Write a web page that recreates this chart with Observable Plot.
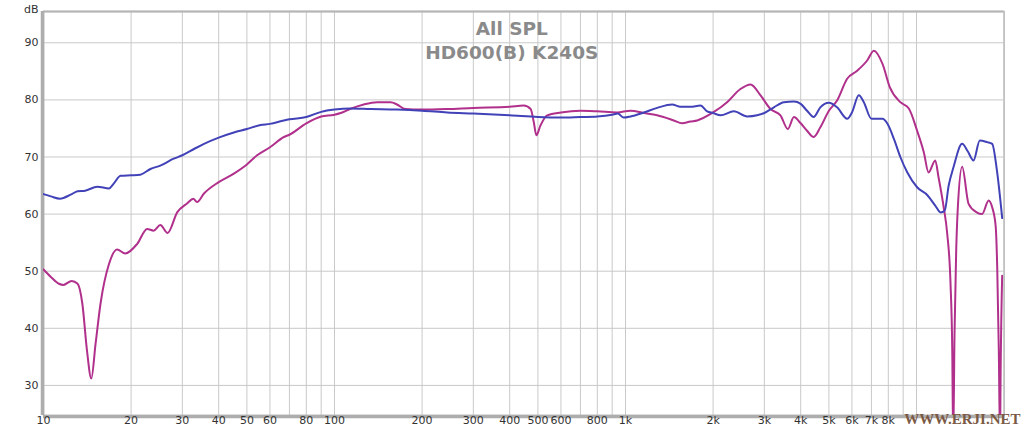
<!DOCTYPE html>
<html><head><meta charset="utf-8">
<script src="https://cdn.jsdelivr.net/npm/d3@7"></script>
<script src="https://cdn.jsdelivr.net/npm/@observablehq/plot@0.6"></script>
<style>body{margin:0;background:#fff;} #chart{width:1024px;height:434px;}</style>
</head><body><div id="chart"></div>
<script>
const seriesNames = ["HD600(B)", "K240S"];
const titleLines = ["All SPL", "HD600(B) K240S"];
const watermark = "WWW.ERJI.NET";

const hd600Freq = [10,10.6,11.4,12.4,13.1,13.9,15.3,16.8,17.4,18.4,20,21.5,23.3,25.2,28,30,32.9,35.6,40,45.1,50,55.7,60,67,70,80,90,100,113,133,164,200,244,300,400,500,600,700,800,900,941,986,1040,1156,1285,1446,1545,1673,1810,1908,2000,2121,2357,2619,2835,3000,3236,3503,3791,4000,4207,4433,4672,5000,5334,5777,6000,6335,6591,7000,7642,7930,8400,8800,9300,10050,10900,11600,12100,12500,12900,13400,14350,15000,15700,16500,17500,18200,18900,19700];
const hd600Db = [63.5,63.1,62.7,63.4,64.0,64.1,64.8,64.5,65.3,66.7,66.8,66.9,67.9,68.5,69.7,70.3,71.4,72.3,73.4,74.3,74.9,75.6,75.8,76.4,76.6,77.0,77.9,78.3,78.5,78.4,78.3,78.1,77.8,77.6,77.3,77.0,76.9,77.0,77.1,77.4,77.6,76.9,77.1,77.8,78.6,79.2,78.8,78.8,79.0,78.0,77.7,77.3,78.0,77.1,77.3,77.7,78.7,79.6,79.7,79.3,78.1,77.0,78.7,79.5,78.7,76.7,77.8,80.8,79.6,76.7,76.7,75.9,72.9,70.0,67.3,64.7,63.3,61.5,60.3,60.6,65.0,68.2,72.3,71.0,69.4,72.9,72.6,72.3,67.6,59.3];

const k240Freq = [10,10.6,11.3,11.7,12.5,13.1,13.6,14.1,14.6,15.1,15.7,16.8,17.9,19.1,21.0,22.7,23.9,25.2,26.7,28.8,31.2,32.7,33.7,35.6,40,45.1,50,54.2,60,67,70,80,90,100,105,113,126,140,156,164,175,200,244,300,400,447,472,484,494,510,538,600,700,800,936,1040,1156,1285,1465,1565,1671,1763,2000,2234,2483,2690,2911,3149,3408,3613,3791,4000,4207,4433,4672,5000,5334,5777,6253,6769,7135,7642,8100,8800,9410,10050,10600,11000,11600,11900,12400,12750,13090,13270,13370,13510,13690,13870,14350,15100,16100,16800,17700,18200,18700,18940,19180,19370,19440,19700];
const k240Db = [50.3,49.0,47.8,47.6,48.3,47.8,44.3,36.2,31.2,37.3,44.3,51.3,53.8,53.1,54.8,57.4,57.1,58.1,56.7,60.3,61.9,62.7,62.1,63.6,65.6,67.1,68.7,70.3,71.7,73.5,73.9,75.9,77.1,77.4,77.7,78.4,79.2,79.6,79.6,79.2,78.4,78.3,78.4,78.6,78.8,79.0,78.4,76.1,73.8,75.5,77.3,77.8,78.1,78.0,77.8,78.1,77.7,77.3,76.4,75.9,76.2,76.4,77.8,79.6,81.9,82.7,80.8,78.4,77.3,74.9,77.0,75.9,74.6,73.5,75.2,78.1,79.9,83.7,85.1,86.9,88.6,86.3,82.2,79.6,78.5,74.6,70.8,67.3,69.4,66.5,61.2,56.6,47.8,36.1,20,39,53.6,61.2,68.3,61.8,60.3,60.0,62.4,61.2,58.0,50.7,36.1,20,30,49.2];

const xTickValues = [10,20,30,40,50,60,80,100,200,300,400,500,600,800,1000,2000,3000,4000,5000,6000,7000,8000];
const xTickLabels = ["10","20","30","40","50","60","80","100","200","300","400","500","600","800","1k","2k","3k","4k","5k","6k","7k","8k"];
const yTickValues = [30,40,50,60,70,80,90];
const xGridValues = [10,20,30,40,50,60,70,80,90,100,200,300,400,500,600,700,800,900,1000,2000,3000,4000,5000,6000,7000,8000,9000,10000,20000];

const hd600 = hd600Freq.map((f, i) => ({f, db: hd600Db[i], s: seriesNames[0]}));
const k240 = k240Freq.map((f, i) => ({f, db: k240Db[i], s: seriesNames[1]}));
const xTicks = xTickValues.map((v, i) => ({v, label: xTickLabels[i]}));

const yMin = 24.73, yMax = 95.48;
const font = "DejaVu Sans, Verdana, sans-serif";

const chart = Plot.plot({
  width: 1024,
  height: 434,
  marginLeft: 43,
  marginRight: 20.4,
  marginTop: 11,
  marginBottom: 19,
  style: {background: "#fff", fontFamily: font},
  x: {type: "log", domain: [10, 20000], axis: null},
  y: {domain: [yMin, yMax], axis: null},
  marks: [
    Plot.ruleX(xGridValues, {stroke: "#c9c9c9", strokeWidth: 1}),
    Plot.ruleY(yTickValues, {stroke: "#c9c9c9", strokeWidth: 1}),
    Plot.frame({stroke: "#bdbdbd", strokeWidth: 1.5}),
    Plot.ruleY([yMax], {stroke: "#b5b5b5", strokeWidth: 2}),
    Plot.ruleX([10], {stroke: "#adadad", strokeWidth: 3.5, dx: -1}),
    Plot.ruleY([yMin], {stroke: "#adadad", strokeWidth: 3.5, dy: 1}),
    Plot.text(titleLines.slice(0, 1), {frameAnchor: "top", dx: -12, dy: 10.5, fontSize: 18.5, fontWeight: "bold", fill: "#8a8a8a"}),
    Plot.text(titleLines.slice(1, 2), {frameAnchor: "top", dx: -12, dy: 34.5, fontSize: 18.5, fontWeight: "bold", fill: "#8a8a8a"}),
    Plot.line(k240, {x: "f", y: "db", stroke: "#b0308c", strokeWidth: 2, curve: "monotone-x", clip: true}),
    Plot.line(hd600, {x: "f", y: "db", stroke: "#4242b8", strokeWidth: 2, curve: "monotone-x", clip: true}),
    Plot.text(xTicks, {x: "v", text: "label", frameAnchor: "bottom", dy: 8.5, fontSize: 11, fill: "#333"}),
    Plot.text(yTickValues, {y: d => d, text: d => String(d), frameAnchor: "left", dx: -5, textAnchor: "end", fontSize: 11, fill: "#333"}),
    Plot.text(["dB"], {frameAnchor: "top-left", dx: -5, dy: -6, textAnchor: "end", fontSize: 11, fill: "#333"}),
    Plot.text([watermark], {frameAnchor: "bottom-right", dx: 16.4, dy: 8.5, textAnchor: "end", fontSize: 15, fontWeight: "bold", fill: "#7b5a45", fontFamily: "Liberation Serif, DejaVu Serif, serif"})
  ]
});
document.getElementById("chart").appendChild(chart);
</script>
</body></html>
